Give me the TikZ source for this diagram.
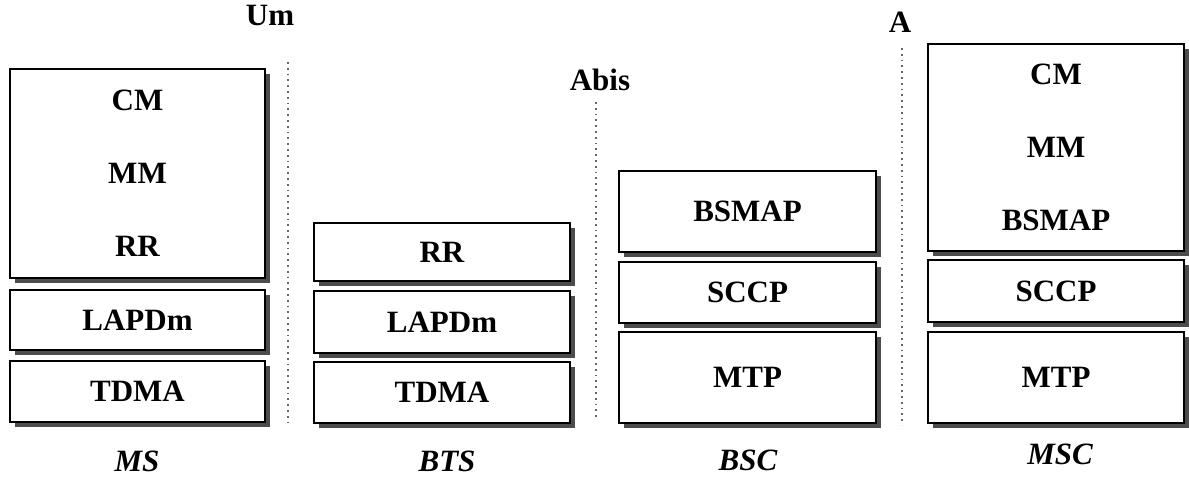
\documentclass[tikz,border=0pt]{standalone}
\usepackage{fontspec}
\setmainfont{Liberation Serif}
\usepackage{pgf,tikz}
\usetikzlibrary{shadows}
\tikzstyle{capa} = [draw=black, fill=white, thick, rectangle, align=center, inner sep=0pt, font=\fontsize{15.5}{18}\selectfont\bfseries, general shadow={fill=black!70, shadow xshift=2.5pt, shadow yshift=-2.5pt}]
\tikzstyle{entidad} = [font=\fontsize{15.5}{18}\selectfont\bfseries\itshape]
\tikzstyle{interfaz} = [font=\fontsize{15.5}{18}\selectfont\bfseries]
\tikzstyle{frontera} = [draw=black!60, dotted, line width=0.9pt]

\begin{document}
\begin{tikzpicture}[x=0.5pt, y=-0.5pt]
	\useasboundingbox (0,0) rectangle (1189,477);
	% MS
	\node[capa, minimum width=127.5pt, minimum height=104.5pt](ms1) at (137.5,173.5) {CM\\[18.5pt]MM\\[18.5pt]RR};
	\node[capa, minimum width=127.5pt, minimum height=30pt](ms2) at (137.5,320) {LAPDm};
	\node[capa, minimum width=127.5pt, minimum height=30.5pt](ms3) at (137.5,391.5) {TDMA};
	\node[entidad](ms) at (137,461) {MS};
	% BTS
	\node[capa, minimum width=128pt, minimum height=29pt](bts1) at (442,252) {RR};
	\node[capa, minimum width=128pt, minimum height=31pt](bts2) at (442,322) {LAPDm};
	\node[capa, minimum width=128pt, minimum height=30.5pt](bts3) at (442,392.5) {TDMA};
	\node[entidad](bts) at (447,461) {BTS};
	% BSC
	\node[capa, minimum width=128.5pt, minimum height=40.5pt](bsc1) at (747.5,211.5) {BSMAP};
	\node[capa, minimum width=128.5pt, minimum height=30.5pt](bsc2) at (747.5,292.5) {SCCP};
	\node[capa, minimum width=128.5pt, minimum height=45.5pt](bsc3) at (747.5,377.5) {MTP};
	\node[entidad](bsc) at (748,460) {BSC};
	% MSC
	\node[capa, minimum width=128pt, minimum height=103.5pt](msc1) at (1056,147.5) {CM\\[18.5pt]MM\\[18.5pt]BSMAP};
	\node[capa, minimum width=128pt, minimum height=31pt](msc2) at (1056,291) {SCCP};
	\node[capa, minimum width=128pt, minimum height=45.5pt](msc3) at (1056,377.5) {MTP};
	\node[entidad](msc) at (1060,454) {MSC};
	% interfaces
	\node[interfaz](um) at (270,15) {Um};
	\coordinate (umA) at (288,62);
	\coordinate (umB) at (288,425);
	\draw[frontera] (umA) -- (umB);
	\node[interfaz](abis) at (600,80) {Abis};
	\coordinate (abisA) at (596,102);
	\coordinate (abisB) at (596,418);
	\draw[frontera] (abisA) -- (abisB);
	\node[interfaz](a) at (900,22) {A};
	\coordinate (aA) at (902,48);
	\coordinate (aB) at (902,425);
	\draw[frontera] (aA) -- (aB);
\end{tikzpicture}
\end{document}
